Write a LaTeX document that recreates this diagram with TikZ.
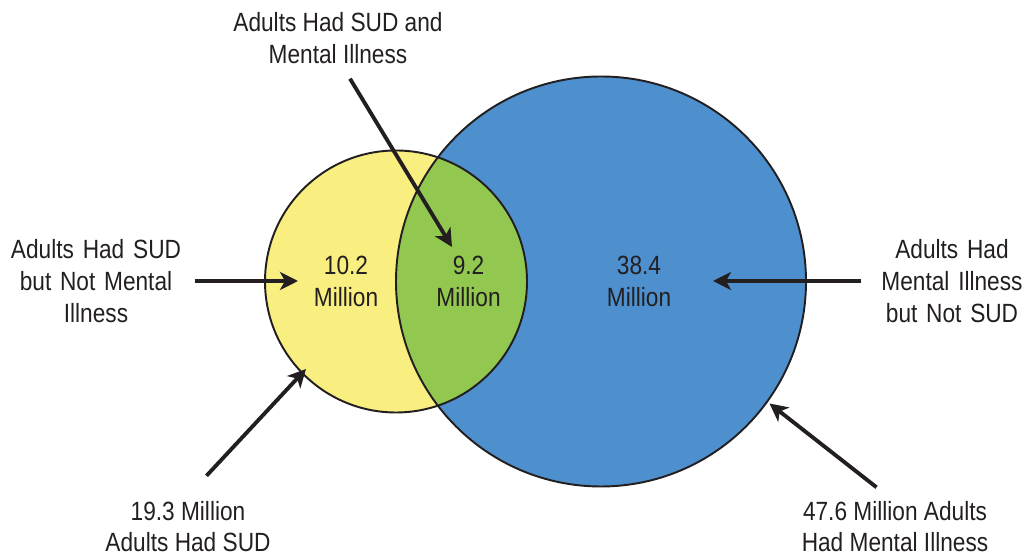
\documentclass[tikz,border=0pt]{standalone}
\usepackage{fontspec}
\setmainfont{Liberation Sans}[FakeStretch=0.86]
\usetikzlibrary{arrows.meta}
\def\sudcircle{(7.92,5.49) circle (2.62cm)}
\def\micircle{(12.02,5.49) circle (4.1cm)}
\definecolor{ink}{HTML}{231F20}
\definecolor{sud area}{HTML}{F9EE80}
\definecolor{both area}{HTML}{92C850}
\definecolor{mi area}{HTML}{4D90CD}
\tikzset{outline/.style={draw=ink, line width=1.1pt},
    pointer/.style={draw=ink, line width=2.2pt, -{Stealth[length=0.36cm, width=0.36cm, inset=0.1cm]}},
    lbl/.style={text=ink, align=center, font=\fontsize{15}{18}\selectfont}}
\begin{document}
\begin{tikzpicture}
\useasboundingbox (0,0) rectangle (20.56,11.12);

\fill[sud area] \sudcircle;
\fill[mi area] \micircle;
\begin{scope}
 \clip \sudcircle;
 \fill[both area] \micircle;
\end{scope}
\draw[outline] \sudcircle;
\draw[outline] \micircle;

\node[lbl] (only10) at (6.92,5.49) {10.2\\Million};
\node[lbl] (both92) at (9.37,5.49) {9.2\\Million};
\node[lbl] (only38) at (12.78,5.49) {38.4\\Million};

\node[lbl] (topLbl) at (6.76,10.36) {Adults Had SUD and\\Mental Illness};
\node[lbl, text width=3.7cm] (leftLbl) at (1.92,5.5) {Adults Had SUD\\but Not Mental\\Illness};
\node[lbl, text width=2.9cm] (rightLbl) at (19.04,5.5) {Adults Had\\Mental Illness\\but Not SUD};
\node[lbl] (sudLbl) at (3.76,0.59) {19.3 Million\\Adults Had SUD};
\node[lbl] (miLbl) at (17.9,0.59) {47.6 Million Adults\\Had Mental Illness};

\coordinate (tip10) at (5.96,5.5);
\coordinate (tip92) at (9.04,6.18);
\coordinate (tip38) at (14.26,5.5);
\coordinate (tipSud) at (6.12,3.74);
\coordinate (tipMi) at (15.39,3.05);

\draw[pointer] (leftLbl.east) -- (tip10);
\draw[pointer, shorten <=0.25cm] (rightLbl.west) -- (tip38);
\draw[pointer] (topLbl.south) ++(0.24,-0.18) -- (tip92);
\draw[pointer] (sudLbl.north) ++(0.37,0.38) -- (tipSud);
\draw[pointer] (miLbl.north) ++(-0.37,0.15) -- (tipMi);
% \draw[help lines] (0,0) grid (20,11);

\end{tikzpicture}
\end{document}
